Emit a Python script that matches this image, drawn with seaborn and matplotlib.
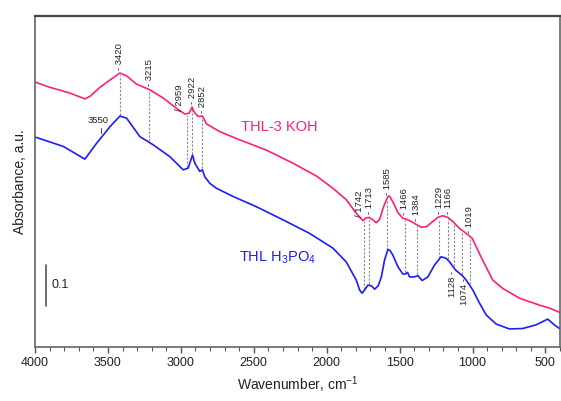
import numpy as np
import pandas as pd
import matplotlib
matplotlib.use("Agg")
import matplotlib.pyplot as plt
import seaborn as sns

# ---------------- data ----------------
koh_wn = [4000, 3897, 3760, 3658, 3623, 3555, 3486, 3418, 3372, 3304, 3212, 3121, 3030,
          2973, 2943, 2923, 2911, 2882, 2852, 2824, 2733, 2596, 2413, 2231, 2071, 1957,
          1865, 1797, 1751, 1733, 1710, 1687, 1660, 1637, 1610, 1580, 1569, 1546, 1512,
          1478, 1450, 1420, 1382, 1352, 1317, 1272, 1238, 1204, 1169, 1135, 1089, 1043,
          1002, 938, 861, 793, 678, 541, 473, 400]
koh_abs = [0.646, 0.633, 0.619, 0.605, 0.611, 0.633, 0.651, 0.668, 0.661, 0.641, 0.627,
           0.607, 0.582, 0.568, 0.570, 0.585, 0.574, 0.562, 0.563, 0.544, 0.525, 0.505,
           0.480, 0.448, 0.417, 0.387, 0.359, 0.326, 0.308, 0.314, 0.316, 0.311, 0.303,
           0.311, 0.342, 0.367, 0.368, 0.354, 0.328, 0.314, 0.311, 0.306, 0.298, 0.292,
           0.293, 0.306, 0.316, 0.320, 0.316, 0.306, 0.289, 0.277, 0.265, 0.217, 0.163,
           0.143, 0.119, 0.102, 0.095, 0.084]

h3po4_wn = [4000, 3806, 3658, 3577, 3486, 3418, 3372, 3281, 3190, 3075, 2984, 2950, 2920,
            2904, 2870, 2852, 2836, 2801, 2756, 2642, 2482, 2299, 2117, 1957, 1865, 1797,
            1774, 1757, 1740, 1717, 1692, 1671, 1647, 1625, 1603, 1580, 1565, 1546, 1512,
            1478, 1459, 1445, 1432, 1397, 1375, 1345, 1306, 1260, 1215, 1180, 1158, 1117,
            1067, 1043, 998, 952, 906, 838, 747, 656, 564, 484, 439, 400]
h3po4_abs = [0.512, 0.489, 0.458, 0.497, 0.537, 0.563, 0.558, 0.513, 0.493, 0.464, 0.432,
             0.436, 0.468, 0.448, 0.428, 0.432, 0.415, 0.399, 0.387, 0.367, 0.342, 0.310,
             0.277, 0.241, 0.207, 0.163, 0.139, 0.131, 0.139, 0.151, 0.149, 0.141, 0.149,
             0.171, 0.212, 0.238, 0.235, 0.224, 0.196, 0.178, 0.178, 0.182, 0.171, 0.171,
             0.174, 0.162, 0.171, 0.200, 0.220, 0.216, 0.208, 0.188, 0.173, 0.163, 0.139,
             0.107, 0.078, 0.056, 0.044, 0.045, 0.054, 0.068, 0.054, 0.044]

# band positions: marked with dashed lines
bands = [3420, 3215, 2959, 2922, 2852, 1742, 1713, 1585, 1466, 1384, 1229, 1166, 1128, 1074, 1019]
labels_above = ["3420", "3215", "2959", "2922", "2852", "1742", "1713", "1585",
                "1466", "1384", "1229", "1166", "1019"]
labels_below = ["1128", "1074"]
label_3550 = "3550"

xticks = [4000, 3500, 3000, 2500, 2000, 1500, 1000, 500]

# ---------------- style ----------------
sns.set_theme(style="white")
plt.rcParams["font.family"] = ["Liberation Sans", "DejaVu Sans"]
plt.rcParams["mathtext.fontset"] = "custom"
plt.rcParams["mathtext.rm"] = "Liberation Sans"
plt.rcParams["mathtext.it"] = "Liberation Sans:italic"

PINK = "#ff1f7c"
BLUE = "#1c1cff"

fig = plt.figure(figsize=(5.61, 4.01), dpi=100)
ax = fig.add_axes([35 / 561, 54 / 401, 525 / 561, 331 / 401])

df_koh = pd.DataFrame({"wn": koh_wn, "A": koh_abs})
df_h = pd.DataFrame({"wn": h3po4_wn, "A": h3po4_abs})
sns.lineplot(data=df_koh, x="wn", y="A", color=PINK, lw=1.2, sort=False,
             estimator=None, ax=ax)
sns.lineplot(data=df_h, x="wn", y="A", color=BLUE, lw=1.2, sort=False,
             estimator=None, ax=ax)

ax.set_xlim(4000, 400)
ax.set_ylim(0, 0.807)


def pink_at(w):
    return np.interp(w, koh_wn[::-1], koh_abs[::-1])


def blue_at(w):
    return np.interp(w, h3po4_wn[::-1], h3po4_abs[::-1])


# dashed connectors
for b in bands:
    ax.plot([b, b], [blue_at(b) + 0.004, pink_at(b) - 0.004], color="#888888",
            lw=0.8, ls=(0, (2, 1.5)), zorder=1)

# labels above upper curve
lab_fs = 6.8
slanted = {"2959": 3012, "1742": 1778}
shifted = {"1713": 1703}
raised = {"1166": 1229}
for lab in labels_above:
    w = float(lab)
    xt = slanted.get(lab, shifted.get(lab, w))
    if lab in slanted:
        txt = "/ " + lab
        base = pink_at(w) + 0.006
    else:
        txt = "- " + lab
        base = pink_at(raised.get(lab, w)) + 0.008
    ax.text(xt, base, txt, rotation=90, ha="center", va="bottom",
            fontsize=lab_fs, color="#222222")

# labels below lower curve
below_x = {"1128": 1135, "1074": 1058}
for lab in labels_below:
    w = float(lab)
    ax.text(below_x[lab], blue_at(w) - 0.008, lab + " -", rotation=90, ha="center",
            va="top", fontsize=lab_fs, color="#222222")

# 3550 label
w = float(label_3550)
ax.plot([w, w], [blue_at(w) + 0.012, blue_at(w) + 0.025], color="#555555", lw=0.8)
ax.text(w + 20, blue_at(w) + 0.033, label_3550, ha="center", va="bottom",
        fontsize=lab_fs, color="#222222")

# series names
ax.text(2322, 0.537, "THL-3 KOH", color=PINK, fontsize=10.5, ha="center", va="center")
ax.text(2600, 0.217, "THL H$_3$PO$_4$", color=BLUE, fontsize=10.5, ha="left", va="center")

# scale bar
ax.plot([3925, 3925], [0.1, 0.2], color="#555555", lw=1.2)
ax.text(3885, 0.15, "0.1", ha="left", va="center", fontsize=9, color="#222222")

# axes cosmetics
ax.set_xticks(xticks)
ax.set_xticklabels([str(t) for t in xticks], fontsize=9, color="#222222")
ax.set_xticks(np.arange(4000, 399, -100), minor=True)
ax.set_yticks([])
ax.tick_params(axis="x", which="major", direction="out", length=4, width=1,
               color="#555555", bottom=True, pad=3)
ax.tick_params(axis="x", which="minor", direction="out", length=3, width=0.8,
               color="#555555", bottom=True)
for s in ["left", "bottom", "right"]:
    ax.spines[s].set_color("#666666")
    ax.spines[s].set_linewidth(1.2)
ax.spines["top"].set_color("#444444")
ax.spines["top"].set_linewidth(1.6)

ax.set_xlabel("Wavenumber, cm$^{\\mathregular{-1}}$", fontsize=10, color="#222222", labelpad=4)
ax.set_ylabel("Absorbance, a.u.", fontsize=10, color="#222222", labelpad=6)

fig.savefig("out.png", dpi=100)
